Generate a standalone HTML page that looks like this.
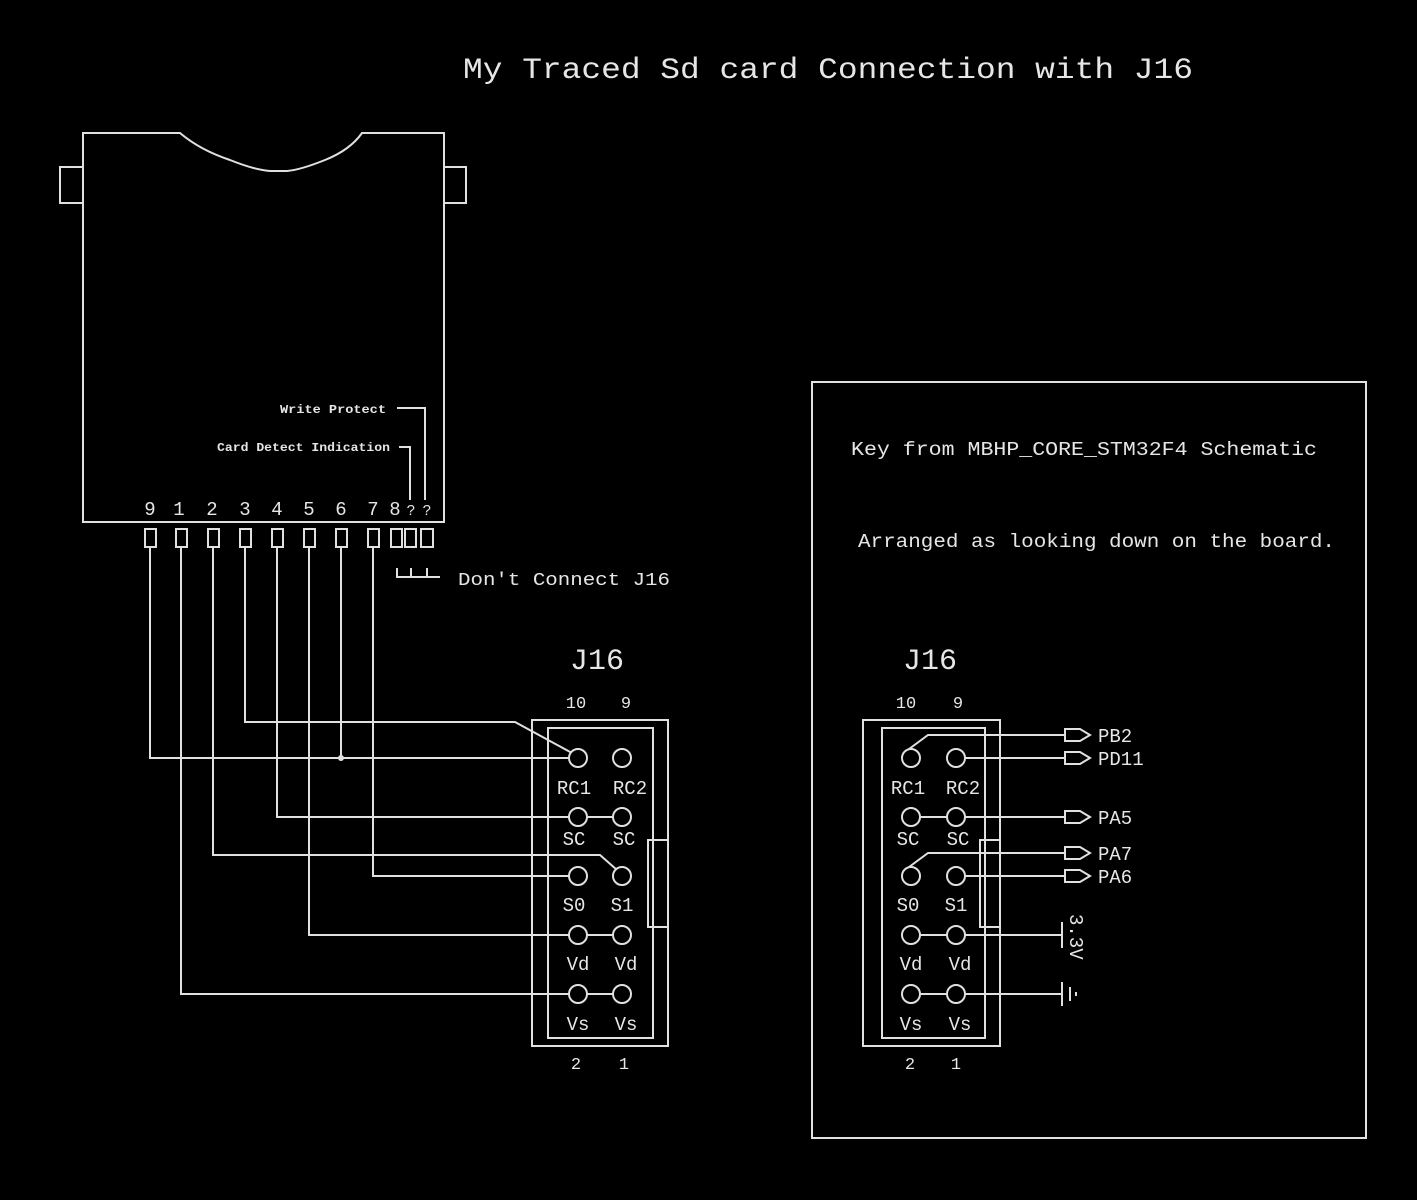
<!DOCTYPE html>
<html><head><meta charset="utf-8"><style>
html,body{margin:0;padding:0;background:#000;}
svg{display:block}
text{font-family:"Liberation Mono",monospace;fill:#e6e6e6;}
</style></head><body>
<svg width="1417" height="1200" viewBox="0 0 1417 1200" xmlns="http://www.w3.org/2000/svg">
<rect width="1417" height="1200" fill="#000"/>
<g fill="none" stroke="#e0e0e0" stroke-width="2">
<!-- SD card body -->
<path d="M83,522 L83,133 L180,133 Q200,150 230,160 Q255,170 270,171 L287,171 Q300,170 325,160 Q350,150 362,133 L444,133 L444,522 Z"/>
<rect x="60" y="167" width="23" height="36"/>
<rect x="444" y="167" width="22" height="36"/>
<!-- pins -->
<rect x="145" y="529" width="11" height="18"/>
<rect x="176" y="529" width="11" height="18"/>
<rect x="208" y="529" width="11" height="18"/>
<rect x="240" y="529" width="11" height="18"/>
<rect x="272" y="529" width="11" height="18"/>
<rect x="304" y="529" width="11" height="18"/>
<rect x="336" y="529" width="11" height="18"/>
<rect x="368" y="529" width="11" height="18"/>
<rect x="391" y="529" width="11" height="18"/>
<rect x="405" y="529" width="11" height="18"/>
<rect x="421" y="529" width="12" height="18"/>
<!-- WP / CD leaders -->
<path d="M397,408 L425,408 L425,500"/>
<path d="M399,447 L410,447 L410,500"/>
<!-- dont connect -->
<path d="M397,568 L397,577 L440,577 M411,568 L411,577 M427,568 L427,577"/>
<!-- wires left -->
<path d="M150,547 L150,758 L578,758"/>
<path d="M341,547 L341,758"/>
<path d="M245,547 L245,722 L515,722 L572,753"/>
<path d="M277,547 L277,817 L622,817"/>
<path d="M213,547 L213,855 L600,855 L617,870"/>
<path d="M373,547 L373,876 L578,876"/>
<path d="M309,547 L309,935 L622,935"/>
<path d="M181,547 L181,994 L622,994"/>
<!-- left J16 -->
<rect x="532" y="720" width="136" height="326"/>
<rect x="548" y="728" width="105" height="310"/>
<rect x="648" y="840" width="20" height="87"/>
<g fill="#000">
<circle cx="578" cy="758" r="9"/><circle cx="622" cy="758" r="9"/>
<circle cx="578" cy="817" r="9"/><circle cx="622" cy="817" r="9"/>
<circle cx="578" cy="876" r="9"/><circle cx="622" cy="876" r="9"/>
<circle cx="578" cy="935" r="9"/><circle cx="622" cy="935" r="9"/>
<circle cx="578" cy="994" r="9"/><circle cx="622" cy="994" r="9"/>
</g>
<!-- right box -->
<rect x="812" y="382" width="554" height="756"/>
<rect x="863" y="720" width="137" height="326"/>
<rect x="882" y="728" width="103" height="310"/>
<rect x="980" y="840" width="20" height="87"/>
<path d="M905,752 L928,735 L1065,735"/>
<path d="M956,758 L1065,758"/>
<path d="M911,817 L1065,817"/>
<path d="M905,870 L928,853 L1065,853"/>
<path d="M956,876 L1065,876"/>
<path d="M911,935 L1062,935 M1062,922 L1062,948"/>
<path d="M911,994 L1062,994 M1062,982 L1062,1006 M1070,987 L1070,1001 M1076,992 L1076,996"/>
<g>
<path d="M1065,729 L1080,729 L1090,735 L1080,741 L1065,741 Z"/>
<path d="M1065,752 L1080,752 L1090,758 L1080,764 L1065,764 Z"/>
<path d="M1065,811 L1080,811 L1090,817 L1080,823 L1065,823 Z"/>
<path d="M1065,847 L1080,847 L1090,853 L1080,859 L1065,859 Z"/>
<path d="M1065,870 L1080,870 L1090,876 L1080,882 L1065,882 Z"/>
</g>
<g fill="#000">
<circle cx="911" cy="758" r="9"/><circle cx="956" cy="758" r="9"/>
<circle cx="911" cy="817" r="9"/><circle cx="956" cy="817" r="9"/>
<circle cx="911" cy="876" r="9"/><circle cx="956" cy="876" r="9"/>
<circle cx="911" cy="935" r="9"/><circle cx="956" cy="935" r="9"/>
<circle cx="911" cy="994" r="9"/><circle cx="956" cy="994" r="9"/>
</g>
</g>
<circle cx="341" cy="758" r="3" fill="#e0e0e0"/>

<text x="463" y="78" font-size="30" textLength="730" lengthAdjust="spacingAndGlyphs">My Traced Sd card Connection with J16</text>
<text x="280" y="413" font-size="12" font-weight="bold" textLength="106" lengthAdjust="spacingAndGlyphs">Write Protect</text>
<text x="217" y="451" font-size="12" font-weight="bold" textLength="173" lengthAdjust="spacingAndGlyphs">Card Detect Indication</text>
<g font-size="19" text-anchor="middle">
<text x="150" y="515">9</text><text x="179" y="515">1</text><text x="212" y="515">2</text><text x="245" y="515">3</text>
<text x="277" y="515">4</text><text x="309" y="515">5</text><text x="341" y="515">6</text><text x="373" y="515">7</text>
<text x="395" y="515">8</text><text x="411" y="515" font-size="15">?</text><text x="427" y="515" font-size="15">?</text>
</g>
<text x="458" y="585" font-size="18" textLength="212" lengthAdjust="spacingAndGlyphs">Don't Connect J16</text>

<g text-anchor="middle">
<text x="597" y="669" font-size="30">J16</text>
<text x="576" y="708" font-size="17">10</text><text x="626" y="708" font-size="17">9</text>
<text x="576" y="1069" font-size="17">2</text><text x="624" y="1069" font-size="17">1</text>
<g font-size="19">
<text x="574" y="794">RC1</text><text x="630" y="794">RC2</text>
<text x="574" y="845">SC</text><text x="624" y="845">SC</text>
<text x="574" y="911">S0</text><text x="622" y="911">S1</text>
<text x="578" y="970">Vd</text><text x="626" y="970">Vd</text>
<text x="578" y="1030">Vs</text><text x="626" y="1030">Vs</text>
</g>
<text x="930" y="669" font-size="30">J16</text>
<text x="906" y="708" font-size="17">10</text><text x="958" y="708" font-size="17">9</text>
<text x="910" y="1069" font-size="17">2</text><text x="956" y="1069" font-size="17">1</text>
<g font-size="19">
<text x="908" y="794">RC1</text><text x="963" y="794">RC2</text>
<text x="908" y="845">SC</text><text x="958" y="845">SC</text>
<text x="908" y="911">S0</text><text x="956" y="911">S1</text>
<text x="911" y="970">Vd</text><text x="960" y="970">Vd</text>
<text x="911" y="1030">Vs</text><text x="960" y="1030">Vs</text>
</g>
</g>
<g font-size="19">
<text x="1098" y="742">PB2</text>
<text x="1098" y="765">PD11</text>
<text x="1098" y="824">PA5</text>
<text x="1098" y="860">PA7</text>
<text x="1098" y="883">PA6</text>
</g>
<text x="0" y="0" font-size="19" transform="translate(1070,914) rotate(90)">3.3V</text>
<text x="851" y="455" font-size="19" textLength="466" lengthAdjust="spacingAndGlyphs">Key from MBHP_CORE_STM32F4 Schematic</text>
<text x="858" y="547" font-size="19" textLength="477" lengthAdjust="spacingAndGlyphs">Arranged as looking down on the board.</text>
</svg>
</body></html>
